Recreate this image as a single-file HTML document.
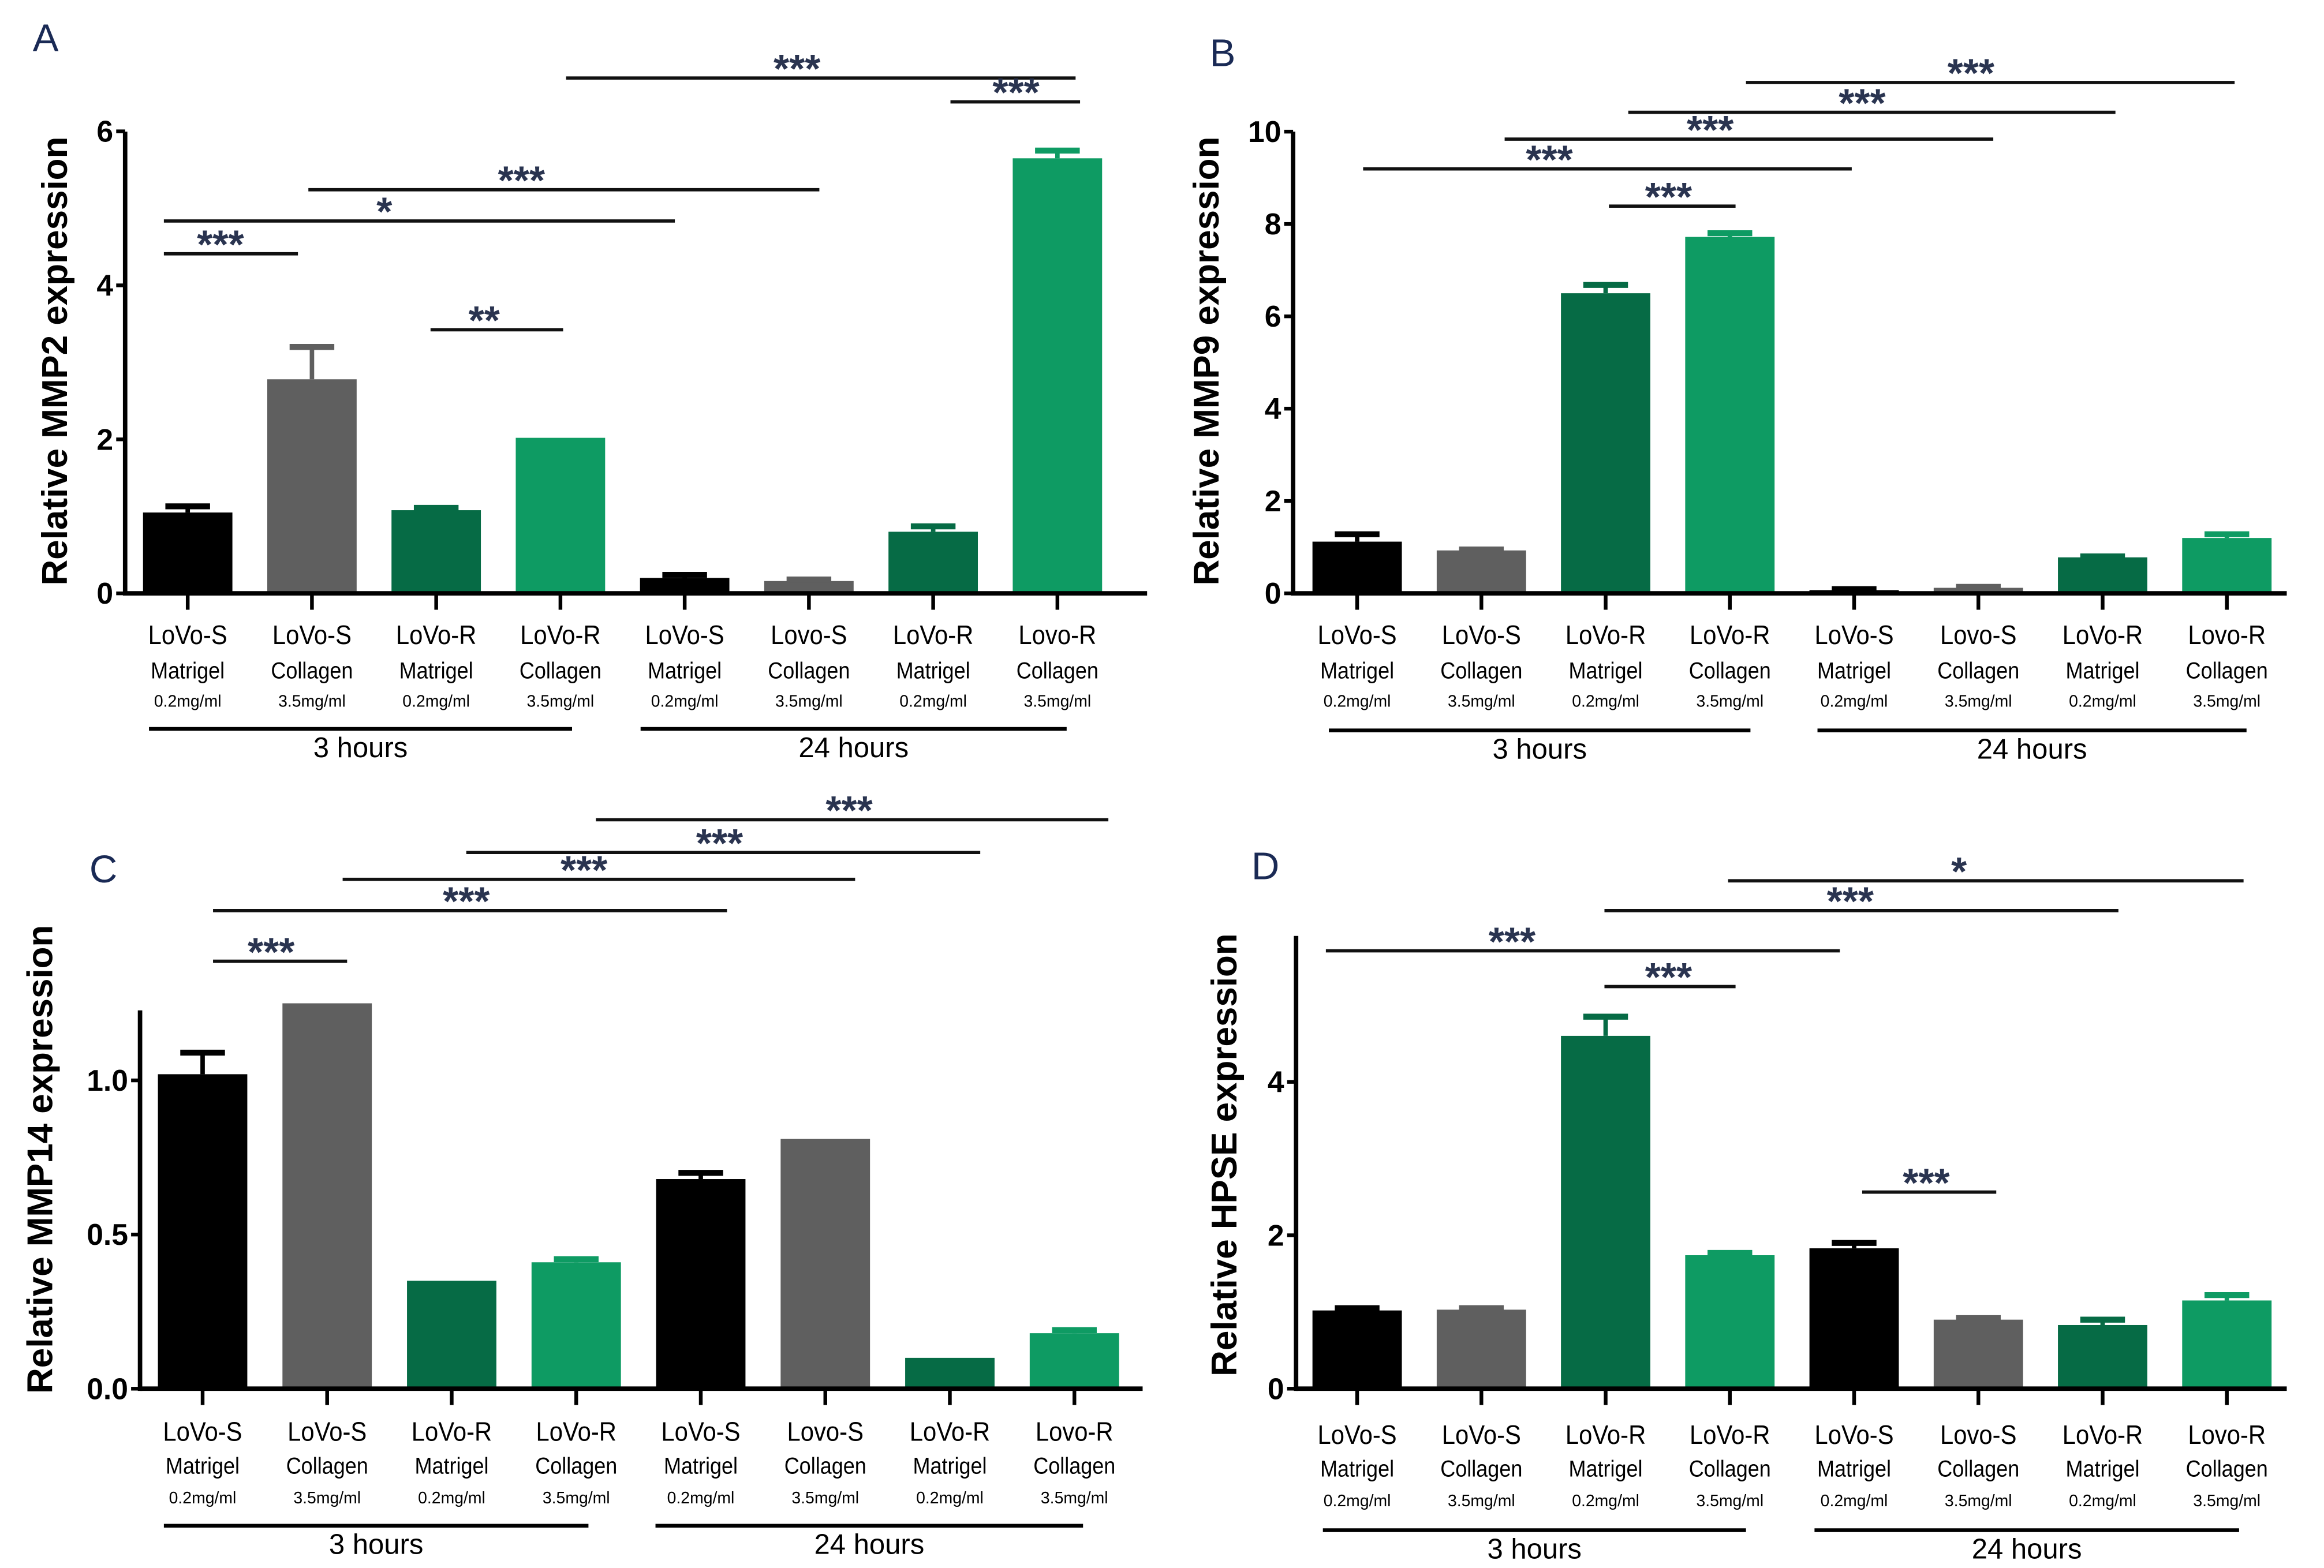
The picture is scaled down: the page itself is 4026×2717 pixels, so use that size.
<!DOCTYPE html>
<html><head><meta charset="utf-8"><style>
html,body{margin:0;padding:0;background:#fff}
svg{display:block}
text{font-family:"Liberation Sans",sans-serif}
</style></head><body>
<svg id="fig" width="4026" height="2717" viewBox="0 0 1560 1052" xmlns="http://www.w3.org/2000/svg"></svg>
<script>
const categories = ["LoVo-S","LoVo-S","LoVo-R","LoVo-R","LoVo-S","Lovo-S","LoVo-R","Lovo-R"];
const media = ["Matrigel","Collagen","Matrigel","Collagen","Matrigel","Collagen","Matrigel","Collagen"];
const concs = ["0.2mg/ml","3.5mg/ml","0.2mg/ml","3.5mg/ml","0.2mg/ml","3.5mg/ml","0.2mg/ml","3.5mg/ml"];
const colorsArr = ["#000000","#5f5f5f","#066b45","#0e9b63","#000000","#5f5f5f","#066b45","#0e9b63"];

const mmp2Values = [1.05,2.78,1.08,2.02,0.2,0.16,0.8,5.65];
const mmp2Errors = [0.08,0.42,0.03,0.0,0.04,0.02,0.07,0.1];
const mmp2Ticks = [0,2,4,6];
const mmp9Values = [1.12,0.93,6.5,7.72,0.07,0.12,0.78,1.2];
const mmp9Errors = [0.16,0.02,0.18,0.08,0.02,0.02,0.02,0.08];
const mmp9Ticks = [0,2,4,6,8,10];
const mmp14Values = [1.02,1.25,0.35,0.41,0.68,0.81,0.1,0.18];
const mmp14Errors = [0.07,0.0,0.0,0.01,0.02,0.0,0.0,0.01];
const mmp14Ticks = ["0.0","0.5","1.0"];
const hpseValues = [1.02,1.03,4.6,1.74,1.83,0.9,0.83,1.15];
const hpseErrors = [0.03,0.02,0.25,0.03,0.07,0.02,0.07,0.07];
const hpseTicks = [0,2,4];

const NS="http://www.w3.org/2000/svg";
const svg=document.getElementById('fig');
function mk(tag,attrs,parent,txt){const e=document.createElementNS(NS,tag);for(const k in attrs)e.setAttribute(k,attrs[k]);if(txt!==undefined)e.textContent=txt;(parent||svg).appendChild(e);return e;}

function panel(p){
  const g=mk('g',{});
  
  
  const y=v=>p.y0-(v-p.vmin)*p.ppu;
  const x=i=>p.x0+i*p.step;
  const L=mk('text',{x:p.letter[0],y:p.letter[1],'font-size':26,fill:'#1a2a55'},g,p.letterText);
  
  
  p.values.forEach((v,i)=>{
    const cx=x(i),w=60;
    const b=mk('rect',{x:cx-w/2,y:y(v),width:w,height:p.y0-y(v),fill:colorsArr[i]},g);
    
    
    if(p.errors[i]>0){
      const e=p.errors[i];
      mk('line',{x1:cx,x2:cx,y1:y(v),y2:y(v+e),stroke:colorsArr[i],'stroke-width':3},g);
      const c=mk('line',{x1:cx-15,x2:cx+15,y1:y(v+e),y2:y(v+e),stroke:colorsArr[i],'stroke-width':4},g);
      
      
    }
    mk('line',{x1:cx,x2:cx,y1:p.y0,y2:p.y0+11,stroke:'#000','stroke-width':2.5},g);
    const t1=mk('text',{x:cx,y:p.lab[0],'font-size':18,'text-anchor':'middle',transform:`translate(${cx} 0) scale(0.9 1) translate(${-cx} 0)`},g,categories[i]);
    
    
    mk('text',{x:cx,y:p.lab[1],'font-size':15.5,'text-anchor':'middle',transform:`translate(${cx} 0) scale(0.9 1) translate(${-cx} 0)`},g,media[i]);
    mk('text',{x:cx,y:p.lab[2],'font-size':11,'text-anchor':'middle'},g,concs[i]);
  });
  const ya=mk('line',{x1:p.ax,x2:p.ax,y1:p.ytop,y2:p.y0+1.5,stroke:'#000','stroke-width':3},g);
  
  
  const xa=mk('line',{x1:p.ax,x2:p.xend,y1:p.y0,y2:p.y0,stroke:'#000','stroke-width':3},g);
  
  
  p.ticks.forEach(t=>{
    const ty=y(parseFloat(t));
    mk('line',{x1:p.ax-6,x2:p.ax,y1:ty,y2:ty,stroke:'#000','stroke-width':2.5},g);
    const tl=mk('text',{x:p.ax-8,y:ty+7,'font-size':20,'font-weight':'bold','text-anchor':'end'},g,t);
    
    
  });
  const yt=mk('text',{x:p.title[0],y:p.title[1],'font-size':24,'font-weight':'bold','text-anchor':'middle',transform:`rotate(-90 ${p.title[0]} ${p.title[1]})`},g,p.titleText);
  
  
  p.groups.forEach(gr=>{
    mk('line',{x1:gr[0],x2:gr[1],y1:gr[2],y2:gr[2],stroke:'#000','stroke-width':2.5},g);
    const gt=mk('text',{x:(gr[0]+gr[1])/2,y:gr[2]+19,'font-size':19,'text-anchor':'middle'},g,gr[3]);
    
    
  });
  p.sig.forEach(s=>{
    const sl=mk('line',{x1:s[0],x2:s[1],y1:s[2],y2:s[2],stroke:'#111','stroke-width':2.2},g);
    
    
    const st=mk('text',{x:s[3],y:s[2]+3,'font-size':27,'font-weight':'bold','text-anchor':'middle',fill:'#2a3450'},g,s[4]);
    
    
  });
}

panel({name:'panel-a-mmp2',letterText:'A',letter:[22,34],values:mmp2Values,errors:mmp2Errors,ticks:mmp2Ticks,
  vmin:0,ppu:51.7,y0:398,ytop:88,ax:84,xend:770,x0:126,step:83.4,lab:[432,455,474],
  title:[45,242],titleText:'Relative MMP2 expression',
  groups:[[100,384,489,'3 hours'],[430,716,489,'24 hours']],
  sig:[[380,722,52,535,'***'],[638,725,68,682,'***'],[207,550,127,350,'***'],[110,453,148,258,'*'],[110,200,170,148,'***'],[289,378,221,325,'**']]});
panel({name:'panel-b-mmp9',letterText:'B',letter:[812,44],values:mmp9Values,errors:mmp9Errors,ticks:mmp9Ticks,
  vmin:0,ppu:31,y0:398,ytop:88,ax:868,xend:1535,x0:911,step:83.4,lab:[432,455,474],
  title:[818,242],titleText:'Relative MMP9 expression',
  groups:[[892,1175,490,'3 hours'],[1220,1508,490,'24 hours']],
  sig:[[1172,1500,55,1323,'***'],[1093,1420,75,1250,'***'],[1010,1338,93,1148,'***'],[915,1243,113,1040,'***'],[1080,1165,138,1120,'***']]});
panel({name:'panel-c-mmp14',letterText:'C',letter:[60,592],values:mmp14Values,errors:mmp14Errors,ticks:mmp14Ticks,
  vmin:0,ppu:207,y0:932,ytop:678,ax:94,xend:767,x0:136,step:83.6,lab:[967,989,1009],
  title:[35,778],titleText:'Relative MMP14 expression',
  groups:[[110,395,1024,'3 hours'],[440,727,1024,'24 hours']],
  sig:[[400,744,550,570,'***'],[313,658,572,483,'***'],[230,574,590,392,'***'],[143,488,611,313,'***'],[143,233,645,182,'***']]});
panel({name:'panel-d-hpse',letterText:'D',letter:[840,590],values:hpseValues,errors:hpseErrors,ticks:hpseTicks,
  vmin:0,ppu:51.5,y0:932,ytop:628,ax:870,xend:1535,x0:911,step:83.4,lab:[969,991,1011],
  title:[830,775],titleText:'Relative HPSE  expression',
  groups:[[888,1172,1027,'3 hours'],[1218,1503,1027,'24 hours']],
  sig:[[1160,1506,591,1315,'*'],[1077,1422,611,1242,'***'],[890,1235,638,1015,'***'],[1077,1165,662,1120,'***'],[1250,1340,800,1293,'***']]});
</script>
</body></html>
